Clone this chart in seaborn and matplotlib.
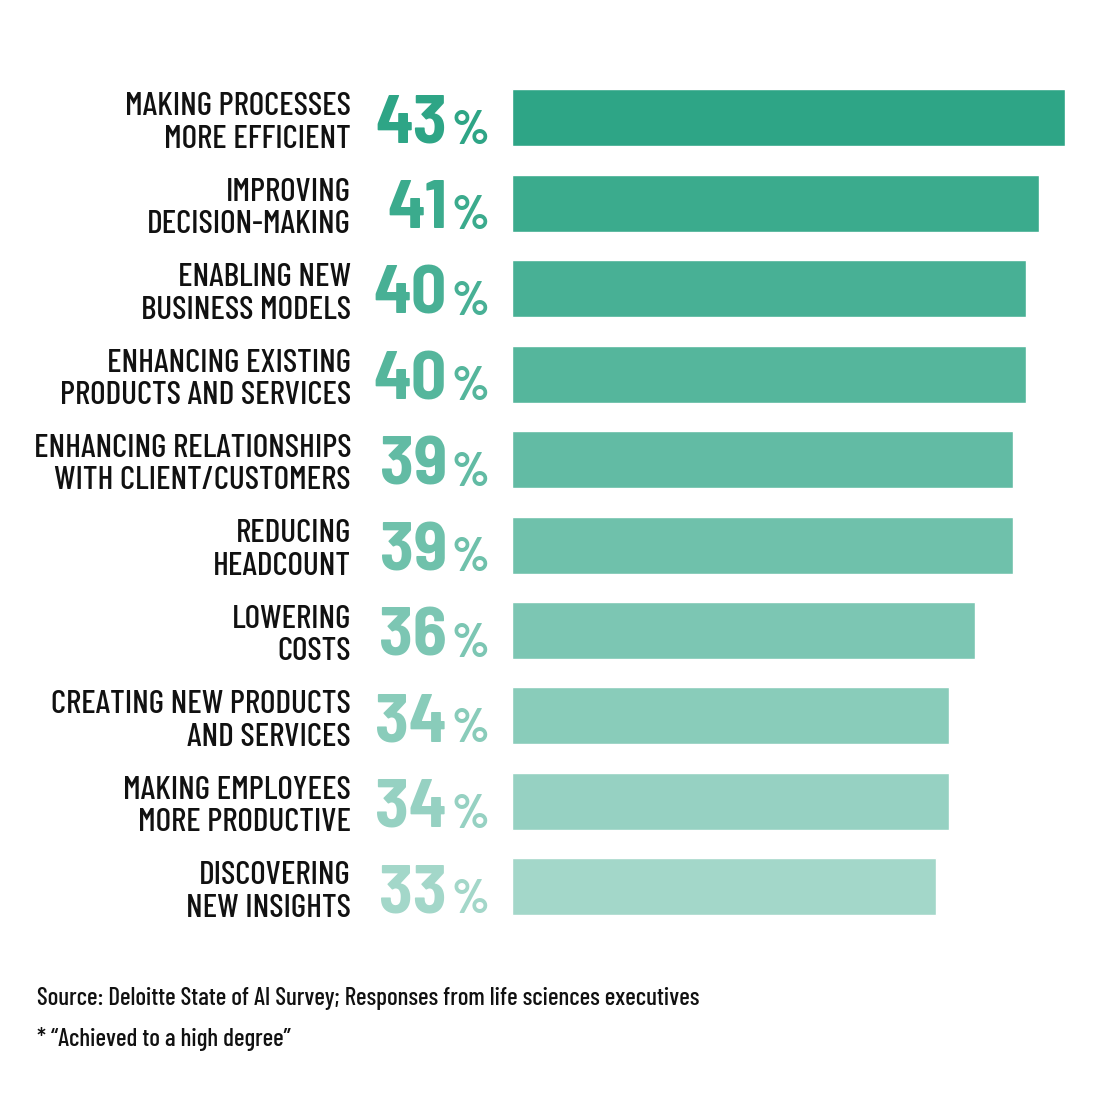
import matplotlib
matplotlib.use("Agg")
import matplotlib.pyplot as plt
import matplotlib.transforms as mtransforms
import seaborn as sns
import pandas as pd

# data
categories = [
    "MAKING PROCESSES\nMORE EFFICIENT",
    "IMPROVING\nDECISION-MAKING",
    "ENABLING NEW\nBUSINESS MODELS",
    "ENHANCING EXISTING\nPRODUCTS AND SERVICES",
    "ENHANCING RELATIONSHIPS\nWITH CLIENT/CUSTOMERS",
    "REDUCING\nHEADCOUNT",
    "LOWERING\nCOSTS",
    "CREATING NEW PRODUCTS\nAND SERVICES",
    "MAKING EMPLOYEES\nMORE PRODUCTIVE",
    "DISCOVERING\nNEW INSIGHTS",
]
values = [43, 41, 40, 40, 39, 39, 36, 34, 34, 33]
bar_colors = ["#2EA586", "#3BAB8D", "#48B095", "#55B69C", "#62BBA4",
              "#6FC1AB", "#7CC6B3", "#89CCBA", "#96D1C2", "#A3D7C9"]
source_note = "Source: Deloitte State of AI Survey; Responses from life sciences executives"
footnote = "* \u201cAchieved to a high degree\u201d"

LABEL_FONT = "Barlow Condensed"
NUM_FONT = "Barlow Semi Condensed"

sns.set_theme(style="white")
plt.rcParams["font.family"] = [LABEL_FONT, "DejaVu Sans"]

df = pd.DataFrame({"cat": categories, "val": values})

fig = plt.figure(figsize=(11, 11.04), dpi=100)
ax = fig.add_axes([0.4655, 0.158, 0.5025, 0.774])

sns.barplot(data=df, x="val", y="cat", hue="cat", palette=bar_colors,
            legend=False, width=0.667, saturation=1, ax=ax)

ax.set_xlim(0, 43)
ax.set_ylim(9.5, -0.5)
ax.set_axis_off()

# labels and big percentages sit left of the axes: x in figure coords, y in data
trans = mtransforms.blended_transform_factory(fig.transFigure, ax.transData)
for i, (cat, val, col) in enumerate(zip(categories, values, bar_colors)):
    ax.text(351 / 1100, i + 0.06, cat, transform=trans, ha="right", va="center",
            fontsize=24, color="#111111", linespacing=1.15, family=LABEL_FONT,
            fontweight="medium")
    ax.text(447 / 1100, i + 0.09, f"{val}", transform=trans, ha="right", va="center",
            fontsize=50, color=col, fontweight="bold", family=NUM_FONT)
    ax.text(451 / 1100, i + 0.16, "%", transform=trans, ha="left", va="center",
            fontsize=34, color=col, fontweight="bold", family=NUM_FONT)

fig.text(37 / 1100, 1 - 998 / 1104, source_note, ha="left", va="center",
         fontsize=18, color="#111111", family=LABEL_FONT, fontweight="medium")
fig.text(37 / 1100, 1 - 1039 / 1104, footnote, ha="left", va="center",
         fontsize=18, color="#111111", family=LABEL_FONT, fontweight="medium")

fig.savefig("out.png", dpi=100, facecolor="white")
